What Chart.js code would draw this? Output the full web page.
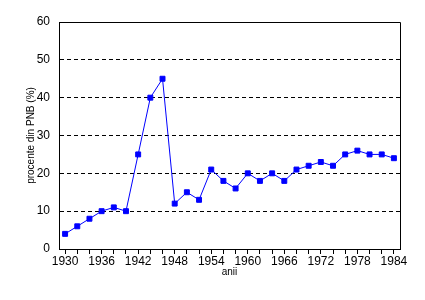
<!DOCTYPE html>
<html>
<head>
<meta charset="utf-8">
<script src="https://cdn.jsdelivr.net/npm/chart.js@4"></script>
<style>
  body { margin: 0; background: #fff; }
</style>
</head>
<body>
<canvas id="pnbChart" width="425" height="300"></canvas>
<script>
const years = [1930, 1932, 1934, 1936, 1938, 1940, 1942, 1944, 1946, 1948, 1950, 1952, 1954, 1956,
               1958, 1960, 1962, 1964, 1966, 1968, 1970, 1972, 1974, 1976, 1978, 1980, 1982, 1984];
const percentPNB = [4, 6, 8, 10, 11, 10, 25, 40, 45, 12, 15, 13, 21, 18,
                    16, 20, 18, 20, 18, 21, 22, 23, 22, 25, 26, 25, 25, 24];
const yTicks = [0, 10, 20, 30, 40, 50, 60];

const FONT = "'Liberation Sans', Arial, sans-serif";

// frame on top and right of the plot area
const framePlugin = {
    id: "frame",
    afterDraw(chart) {
        const { ctx, chartArea: a } = chart;
        ctx.save();
        ctx.strokeStyle = "#000";
        ctx.lineWidth = 1;
        ctx.beginPath();
        ctx.moveTo(a.left, a.top + 0.5);
        ctx.lineTo(a.right + 0.5, a.top + 0.5);
        ctx.lineTo(a.right + 0.5, a.bottom);
        ctx.stroke();
        ctx.restore();
    }
};

const ctx = document.getElementById("pnbChart").getContext("2d");
new Chart(ctx, {
    type: "line",
    data: {
        labels: years.map(String),
        datasets: [{
            data: percentPNB,
            borderColor: "#0000ff",
            backgroundColor: "#0000ff",
            borderWidth: 1,
            tension: 0,
            pointStyle: "rect",
            pointRadius: 3.5,
            pointBorderWidth: 1,
            pointBorderColor: "#0000ff",
            pointBackgroundColor: "#0000ff"
        }]
    },
    options: {
        responsive: false,
        animation: false,
        layout: { padding: { left: 25, right: 25, top: 22, bottom: 22 } },
        plugins: {
            legend: { display: false },
            tooltip: { enabled: false }
        },
        scales: {
            x: {
                offset: true,
                afterFit: s => { s.height = 29; },
                border: { color: "#000", width: 1 },
                grid: {
                    drawOnChartArea: false,
                    drawTicks: true,
                    tickLength: 5,
                    color: "#000",
                    offset: false
                },
                ticks: {
                    autoSkip: false,
                    maxRotation: 0,
                    color: "#000",
                    padding: 0,
                    font: { family: FONT, size: 12 },
                    callback: (v, i) => (i % 3 === 0 ? years[i] : "")
                },
                title: {
                    display: true,
                    text: "anii",
                    color: "#000",
                    padding: 0,
                    font: { family: FONT, size: 10 }
                }
            },
            y: {
                min: yTicks[0],
                max: yTicks[yTicks.length - 1],
                afterFit: s => { s.width = 34; },
                afterBuildTicks: s => { s.ticks = yTicks.map(v => ({ value: v })); },
                grid: {
                    drawTicks: false,
                    color: c => (c.tick.value === 0 || c.tick.value === 60 ? "rgba(0,0,0,0)" : "#000"),
                    lineWidth: 1
                },
                border: { color: "#000", width: 1, dash: [4, 3] },
                ticks: {
                    color: "#000",
                    padding: 9,
                    font: { family: FONT, size: 12 }
                },
                title: {
                    display: true,
                    text: "procente din PNB (%)",
                    color: "#000",
                    padding: 0,
                    font: { family: FONT, size: 10 }
                }
            }
        }
    },
    plugins: [framePlugin]
});
</script>
</body>
</html>
